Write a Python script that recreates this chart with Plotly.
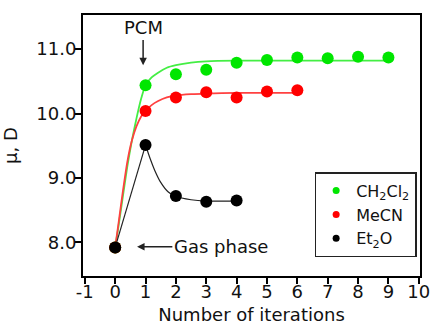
import plotly.graph_objects as go

# ---- data ----
iters_ch2cl2 = [0, 1, 2, 3, 4, 5, 6, 7, 8, 9]
mu_ch2cl2 = [7.92, 10.44, 10.61, 10.68, 10.79, 10.83, 10.87, 10.86, 10.88, 10.87]

iters_mecn = [0, 1, 2, 3, 4, 5, 6]
mu_mecn = [7.92, 10.04, 10.25, 10.33, 10.25, 10.34, 10.36]

iters_et2o = [0, 1, 2, 3, 4]
mu_et2o = [7.92, 9.51, 8.72, 8.63, 8.65]

# fitted guide curves
fit_x_ch2cl2 = [0, 0.1, 0.25, 0.4, 0.55, 0.7, 0.85, 1.0, 1.2, 1.4, 1.7, 2.0, 2.5, 3, 4, 5, 6, 7, 8, 9]
fit_y_ch2cl2 = [7.92, 8.22, 8.70, 9.18, 9.58, 9.92, 10.22, 10.44, 10.56, 10.63, 10.71, 10.75, 10.79, 10.81,
                10.82, 10.82, 10.82, 10.82, 10.82, 10.82]

fit_x_mecn = [0, 0.1, 0.25, 0.4, 0.55, 0.7, 0.85, 1.0, 1.2, 1.4, 1.7, 2.0, 2.5, 3, 4, 5, 6]
fit_y_mecn = [7.92, 8.26, 8.78, 9.25, 9.58, 9.80, 9.95, 10.04, 10.13, 10.19, 10.25, 10.28, 10.30, 10.31,
              10.32, 10.32, 10.32]

rise_x_et2o = [0, 1]
rise_y_et2o = [7.92, 9.51]
fit_x_et2o = [1.0, 1.15, 1.3, 1.5, 1.75, 2.0, 2.5, 3, 3.5, 4]
fit_y_et2o = [9.51, 9.30, 9.12, 8.93, 8.78, 8.71, 8.66, 8.64, 8.64, 8.64]

labels = ["CH<sub>2</sub>Cl<sub>2</sub>", "MeCN", "Et<sub>2</sub>O"]
x_ticks = list(range(-1, 11))
y_ticks = [8.0, 9.0, 10.0, 11.0]

GREEN = "#00E600"
GREEN_LINE = "#44EE44"
RED = "#FF0000"
RED_LINE = "#FF4040"
BLACK = "#000000"
TXT = "#111111"

FONT = "DejaVu Sans, Arial, sans-serif"

fig = go.Figure()

# guide lines
fig.add_trace(go.Scatter(x=fit_x_ch2cl2, y=fit_y_ch2cl2, mode="lines", line=dict(color=GREEN_LINE, width=1.8, shape="spline", smoothing=0.6), showlegend=False, hoverinfo="skip"))
fig.add_trace(go.Scatter(x=fit_x_mecn, y=fit_y_mecn, mode="lines", line=dict(color=RED_LINE, width=1.8, shape="spline", smoothing=0.6), showlegend=False, hoverinfo="skip"))
fig.add_trace(go.Scatter(x=rise_x_et2o, y=rise_y_et2o, mode="lines", line=dict(color="#222222", width=1.2), showlegend=False, hoverinfo="skip"))
fig.add_trace(go.Scatter(x=fit_x_et2o, y=fit_y_et2o, mode="lines", line=dict(color="#222222", width=1.2, shape="spline", smoothing=0.6), showlegend=False, hoverinfo="skip"))

# data points
fig.add_trace(go.Scatter(x=iters_ch2cl2, y=mu_ch2cl2, mode="markers", marker=dict(color=GREEN, size=12), showlegend=False))
fig.add_trace(go.Scatter(x=iters_mecn, y=mu_mecn, mode="markers", marker=dict(color=RED, size=12), showlegend=False))
fig.add_trace(go.Scatter(x=iters_et2o, y=mu_et2o, mode="markers", marker=dict(color=BLACK, size=12), showlegend=False))

# legend entries (small markers)
for name, col, grp in zip(labels, [GREEN, RED, BLACK], ["a", "b", "c"]):
    fig.add_trace(go.Scatter(x=[None], y=[None], mode="markers", name=name, legendgroup=grp,
                             marker=dict(color=col, size=7)))

axis_common = dict(
    showline=True, linecolor="black", linewidth=2, mirror=True,
    ticks="outside", ticklen=6, tickwidth=2, tickcolor="black",
    showgrid=False, zeroline=False, automargin=False,
    tickfont=dict(family=FONT, size=18, color=TXT),
    title_font=dict(family=FONT, size=18, color=TXT),
)

fig.update_xaxes(range=[-1.06, 10.04], tickvals=x_ticks, ticktext=[str(v) for v in x_ticks],
                 ticklabelstandoff=-8,
                 title_text="Number of iterations", **axis_common)
fig.update_yaxes(range=[7.476, 11.53], tickvals=y_ticks, ticktext=[f"{v:.1f}" for v in y_ticks],
                 ticklabelstandoff=-5,
                 title_text="μ, D", **axis_common)

fig.add_annotation(x=0.92, y=10.75, ax=0.92, ay=11.33, axref="x", ayref="y", xref="x", yref="y",
                   text="PCM", showarrow=True, arrowhead=2, arrowsize=1, arrowwidth=1.5,
                   arrowcolor="#222", standoff=0, startstandoff=0,
                   font=dict(family=FONT, size=18, color=TXT))
fig.add_annotation(x=0.72, y=7.93, ax=3.48, ay=7.93, axref="x", ayref="y", xref="x", yref="y",
                   text="Gas phase", showarrow=True, arrowhead=2, arrowsize=1, arrowwidth=1.5,
                   arrowcolor="#222", standoff=0, startstandoff=0,
                   font=dict(family=FONT, size=18, color=TXT))

fig.update_layout(
    width=431, height=325,
    margin=dict(l=83, r=11, t=15, b=49),
    paper_bgcolor="white", plot_bgcolor="white",
    legend=dict(x=0.99, y=0.072, xanchor="right", yanchor="bottom",
                bordercolor="#222", borderwidth=1.5, bgcolor="white",
                font=dict(family=FONT, size=16, color=TXT),
                traceorder="grouped", tracegroupgap=0, itemsizing="trace"),
    font=dict(family=FONT),
)

fig.write_html("out.html")
